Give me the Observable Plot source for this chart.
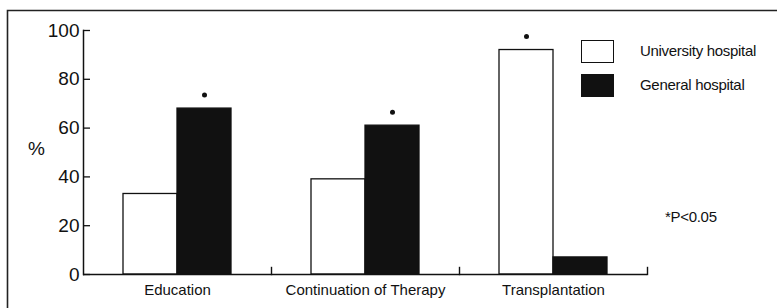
<!DOCTYPE html>
<html>
<head>
<meta charset="utf-8">
<script src="https://cdn.jsdelivr.net/npm/d3@7"></script>
<script src="https://cdn.jsdelivr.net/npm/@observablehq/plot@0.6"></script>
<style>
  html, body { margin: 0; padding: 0; background: #fff; overflow: hidden; }
  #wrap { position: relative; width: 777px; height: 308px; overflow: hidden; font-family: "Liberation Sans", Arial, sans-serif; color: #111; }
  #chart { position: absolute; left: 0; top: 0; z-index: 1; }
  #outer { position: absolute; left: 0; top: 0; z-index: 2; pointer-events: none; }
  .lg { position: absolute; font-size: 15px; letter-spacing: -0.3px; line-height: 1; z-index: 3; }
  .sw { position: absolute; width: 31px; height: 21px; border: 1.3px solid #111; z-index: 3; }
</style>
</head>
<body>
<div id="wrap">
  <div id="chart"></div>
  <svg id="outer" width="777" height="308"><path d="M7.5,308V10.5H777" fill="none" stroke="#222" stroke-width="1.6"/></svg>
  <div class="sw" style="left:581px;top:40px;background:#fff"></div>
  <div class="lg" id="lg0" style="left:640px;top:43px"></div>
  <div class="sw" style="left:581px;top:74px;background:#111"></div>
  <div class="lg" id="lg1" style="left:640px;top:77px"></div>
  <div class="lg" id="note" style="left:665px;top:209px"></div>
</div>
<script>
const categories = ["Education", "Continuation of Therapy", "Transplantation"];
const series = ["University hospital", "General hospital"];
const university = [33, 39, 92];
const general = [68, 61, 7];
const significant = ["General hospital", "General hospital", "University hospital"];
const yTicks = [0, 20, 40, 60, 80, 100];
const yLabel = "%";
const note = "*P<0.05";

const seriesColors = {"University hospital": "#ffffff", "General hospital": "#111111"};

const data = [];
categories.forEach((c, i) => {
  data.push({category: c, series: series[0], value: university[i]});
  data.push({category: c, series: series[1], value: general[i]});
});
const stars = categories.map((c, i) => ({
  category: c,
  series: significant[i],
  value: significant[i] === series[0] ? university[i] : general[i]
}));

const W = 777, H = 308, mt = 30, mb = 34, ml = 83, mr = 130;
const innerH = H - mt - mb;

const chart = Plot.plot({
  width: W, height: H,
  marginLeft: ml, marginRight: mr, marginTop: mt, marginBottom: mb,
  style: {fontFamily: "'Liberation Sans', Arial, sans-serif", fontSize: "15px", color: "#111", background: "transparent", overflow: "visible"},
  fx: {domain: categories, padding: 0},
  x: {domain: series, paddingInner: 0, paddingOuter: 0.74, axis: null},
  y: {domain: [0, 100]},
  marks: [
    Plot.barY(data, {fx: "category", x: "series", y: "value", fill: d => seriesColors[d.series], stroke: "#111", strokeWidth: 1.3}),
    Plot.ruleY([0], {stroke: "#111", strokeWidth: 1.6}),
    Plot.frame({anchor: "right", insetTop: innerH - 7, stroke: "#111", strokeWidth: 1.4}),
    Plot.frame({anchor: "left", facetAnchor: "left", stroke: "#111", strokeWidth: 1.5}),
    Plot.dot(stars, {fx: "category", x: "series", y: "value", dy: -13.5, r: 2.5, fill: "#111", stroke: null}),
    Plot.axisY(yTicks, {tickSize: -7, tickPadding: 11, fontSize: 19, label: null, strokeWidth: 1.3}),
    Plot.text([yLabel], {frameAnchor: "left", facetAnchor: "left", dx: -47, dy: -4, fontSize: 19, textAnchor: "middle"}),
    Plot.axisFx({anchor: "bottom", tickSize: 0, tickPadding: 10, fontSize: 15, label: null})
  ]
});
document.getElementById("chart").appendChild(chart);
document.getElementById("lg0").textContent = series[0];
document.getElementById("lg1").textContent = series[1];
document.getElementById("note").textContent = note;
</script>
</body>
</html>
